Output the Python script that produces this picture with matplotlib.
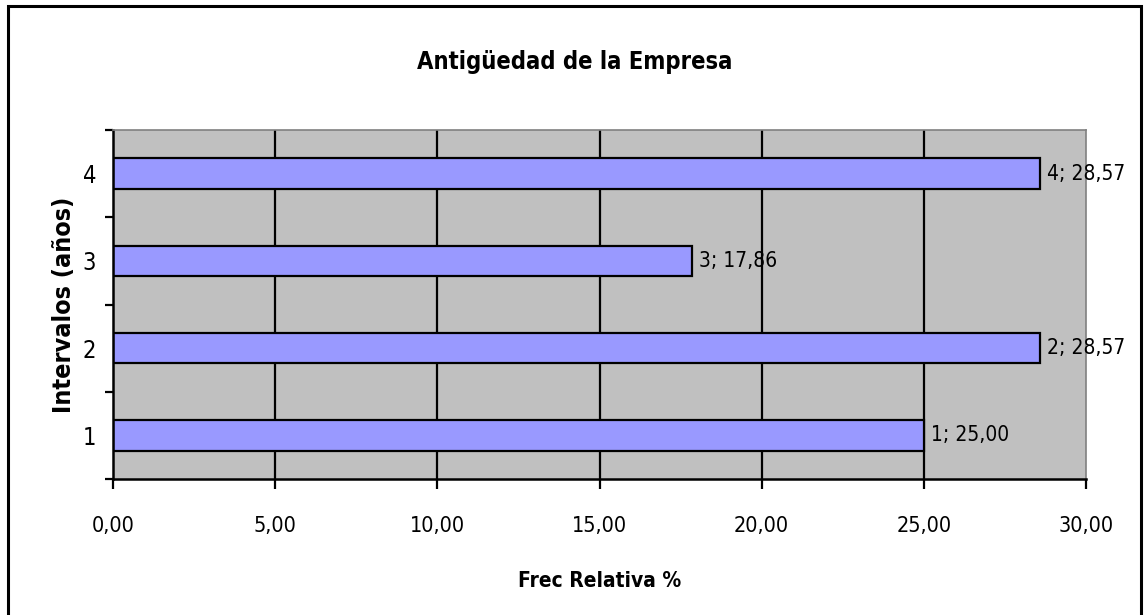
import matplotlib
matplotlib.use("Agg")
import matplotlib.pyplot as plt
from matplotlib.patches import Rectangle

plt.rcParams['font.family'] = ['DejaVu Sans']
plt.rcParams['font.stretch'] = 'condensed'

# Datos
intervalos = [1, 2, 3, 4]
frec_relativa = [25.00, 28.57, 17.86, 28.57]
x_ticks = [0, 5, 10, 15, 20, 25, 30]

titulo = "Antigüedad de la Empresa"
etiqueta_x = "Frec Relativa %"
etiqueta_y = "Intervalos (años)"


def coma(v):
    return f"{v:.2f}".replace(".", ",")


W, H = 1145, 615
fig = plt.figure(figsize=(W / 100, H / 100), dpi=100)
fig.patch.set_facecolor("white")

# Marco exterior del gráfico
fig.patches.append(Rectangle((8 / W, -0.05), (1141 - 8) / W, (H - 6) / H + 0.05,
                             transform=fig.transFigure, fill=False,
                             edgecolor="black", linewidth=2.2, zorder=10))

left, right, top, bottom = 113, 1086, 130, 479
ax = fig.add_axes([left / W, (H - bottom) / H, (right - left) / W, (bottom - top) / H])
ax.set_facecolor("#C0C0C0")

ax.set_xlim(0, 30)
ax.set_ylim(0.5, 4.5)

# Líneas de división verticales
for xv in x_ticks[1:-1]:
    ax.axvline(xv, color="black", linewidth=1.6, zorder=1)

ax.barh(intervalos, frec_relativa, height=0.35, color="#9999FF",
        edgecolor="black", linewidth=1.6, zorder=2)

for y, v in zip(intervalos, frec_relativa):
    ax.annotate(f"{y}; {coma(v)}", xy=(v, y), xytext=(5, 0),
                textcoords="offset points", va="center", ha="left",
                fontsize=15, zorder=3)

ax.set_xticks(x_ticks)
ax.set_xticklabels([coma(v) for v in x_ticks], fontsize=15.5)
ax.set_yticks(intervalos)
ax.set_yticklabels([str(i) for i in intervalos], fontsize=17)
ax.set_yticks([0.5, 1.5, 2.5, 3.5, 4.5], minor=True)
ax.tick_params(axis="y", which="major", length=0, pad=12)
ax.tick_params(axis="y", which="minor", length=6, width=1.6, color="black")
ax.tick_params(axis="x", which="major", length=7, width=1.6, pad=20)

for side in ("top", "right"):
    ax.spines[side].set_color("#808080")
    ax.spines[side].set_linewidth(1.2)
for side in ("left", "bottom"):
    ax.spines[side].set_color("black")
    ax.spines[side].set_linewidth(1.8)

fig.text(575 / W, 1 - 62 / H, titulo, ha="center", va="center",
         fontsize=17, fontweight="bold")
ax.set_xlabel(etiqueta_x, fontsize=15, fontweight="bold", labelpad=25)
ax.set_ylabel(etiqueta_y, fontsize=18, fontweight="bold", labelpad=5)

fig.savefig("out.png", dpi=100)
